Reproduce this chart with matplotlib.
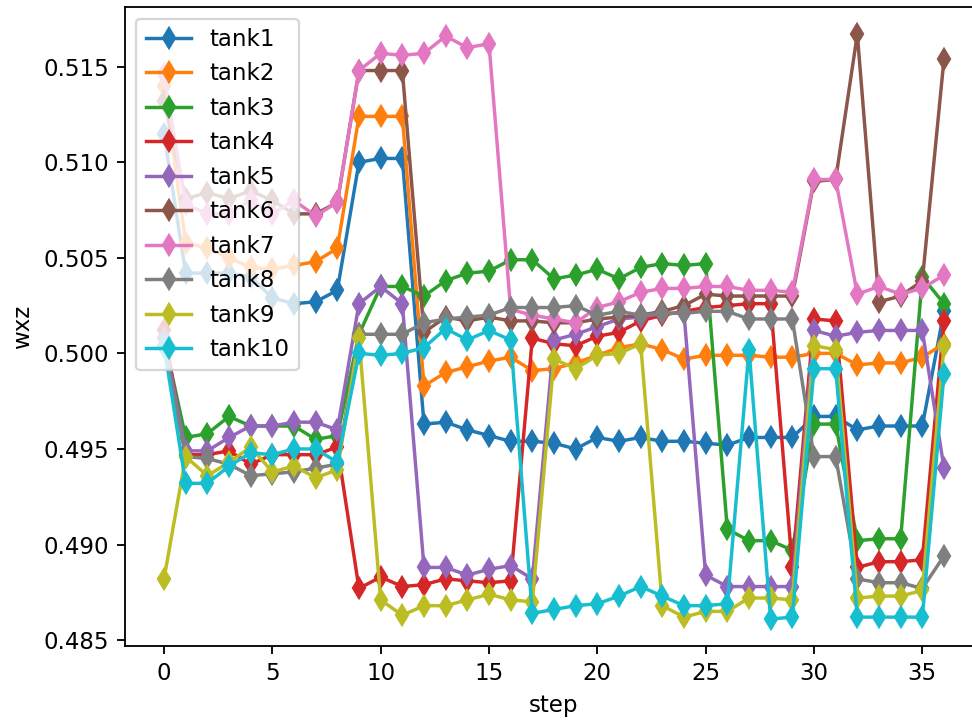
import numpy as np
import matplotlib
matplotlib.use('Agg')
import matplotlib.pyplot as plt

steps = np.arange(37)

tank1 = [0.5115, 0.5042, 0.5042, 0.5042, 0.5040, 0.5029, 0.5026, 0.5027, 0.5033,
         0.5100, 0.5102, 0.5102, 0.4963, 0.4964, 0.4960, 0.4957, 0.4954, 0.4954,
         0.4953, 0.4950, 0.4956, 0.4954, 0.4956, 0.4954, 0.4954, 0.4953, 0.4952,
         0.4956, 0.4956, 0.4956, 0.4967, 0.4967, 0.4960, 0.4962, 0.4962, 0.4962, 0.5022]
tank2 = [0.5140, 0.5058, 0.5055, 0.5050, 0.5045, 0.5044, 0.5046, 0.5048, 0.5055,
         0.5124, 0.5124, 0.5124, 0.4983, 0.4990, 0.4993, 0.4996, 0.4998, 0.4991,
         0.4992, 0.4995, 0.4999, 0.5003, 0.5005, 0.5002, 0.4997, 0.4999, 0.4999,
         0.4999, 0.4998, 0.4998, 0.5000, 0.5000, 0.4994, 0.4995, 0.4995, 0.4998, 0.5005]
tank3 = [0.5008, 0.4956, 0.4958, 0.4967, 0.4962, 0.4962, 0.4962, 0.4955, 0.4957,
         0.5010, 0.5035, 0.5035, 0.5030, 0.5038, 0.5042, 0.5043, 0.5049, 0.5049,
         0.5039, 0.5041, 0.5044, 0.5039, 0.5045, 0.5047, 0.5046, 0.5047, 0.4908,
         0.4902, 0.4902, 0.4897, 0.4963, 0.4963, 0.4902, 0.4903, 0.4903, 0.5040, 0.5026]
tank4 = [0.5012, 0.4947, 0.4947, 0.4949, 0.4942, 0.4947, 0.4947, 0.4947, 0.4951,
         0.4877, 0.4883, 0.4878, 0.4879, 0.4882, 0.4881, 0.4880, 0.4881, 0.5008,
         0.5005, 0.5004, 0.5009, 0.5011, 0.5017, 0.5020, 0.5022, 0.5024, 0.5025,
         0.5026, 0.5026, 0.4888, 0.5018, 0.5017, 0.4888, 0.4891, 0.4891, 0.4892, 0.5017]
tank5 = [0.5008, 0.4949, 0.4949, 0.4956, 0.4962, 0.4962, 0.4964, 0.4964, 0.4960,
         0.5026, 0.5035, 0.5026, 0.4888, 0.4888, 0.4884, 0.4887, 0.4889, 0.4882,
         0.5007, 0.5010, 0.5014, 0.5018, 0.5019, 0.5021, 0.5021, 0.4884, 0.4878,
         0.4878, 0.4878, 0.4878, 0.5012, 0.5009, 0.5011, 0.5012, 0.5012, 0.5012, 0.4940]
tank6 = [0.5132, 0.5081, 0.5084, 0.5081, 0.5085, 0.5080, 0.5073, 0.5073, 0.5079,
         0.5148, 0.5148, 0.5148, 0.5011, 0.5019, 0.5017, 0.5019, 0.5017, 0.5017,
         0.5016, 0.5016, 0.5018, 0.5019, 0.5020, 0.5022, 0.5025, 0.5031, 0.5030,
         0.5030, 0.5030, 0.5030, 0.5090, 0.5091, 0.5167, 0.5027, 0.5030, 0.5038, 0.5154]
tank7 = [0.5146, 0.5078, 0.5073, 0.5073, 0.5080, 0.5073, 0.5080, 0.5072, 0.5079,
         0.5148, 0.5157, 0.5156, 0.5157, 0.5166, 0.5160, 0.5162, 0.5023, 0.5020,
         0.5018, 0.5016, 0.5024, 0.5027, 0.5032, 0.5034, 0.5034, 0.5035, 0.5035,
         0.5033, 0.5033, 0.5032, 0.5091, 0.5091, 0.5031, 0.5035, 0.5031, 0.5034, 0.5041]
tank8 = [0.5004, 0.4946, 0.4945, 0.4942, 0.4936, 0.4937, 0.4938, 0.4940, 0.4942,
         0.5010, 0.5010, 0.5010, 0.5016, 0.5018, 0.5019, 0.5020, 0.5024, 0.5024,
         0.5024, 0.5025, 0.5020, 0.5022, 0.5020, 0.5021, 0.5021, 0.5022, 0.5022,
         0.5018, 0.5018, 0.5018, 0.4946, 0.4946, 0.4882, 0.4880, 0.4880, 0.4877, 0.4894]
tank9 = [0.4882, 0.4946, 0.4936, 0.4943, 0.4951, 0.4938, 0.4941, 0.4935, 0.4939,
         0.5008, 0.4871, 0.4863, 0.4868, 0.4868, 0.4871, 0.4874, 0.4871, 0.4870,
         0.4997, 0.4992, 0.4999, 0.5000, 0.5005, 0.4868, 0.4862, 0.4865, 0.4865,
         0.4872, 0.4872, 0.4871, 0.5004, 0.5002, 0.4872, 0.4873, 0.4873, 0.4876, 0.5004]
tank10 = [0.5004, 0.4932, 0.4932, 0.4941, 0.4948, 0.4947, 0.4950, 0.4950, 0.4943,
          0.5000, 0.4999, 0.5000, 0.5003, 0.5013, 0.5007, 0.5012, 0.5007, 0.4864,
          0.4866, 0.4868, 0.4869, 0.4873, 0.4878, 0.4873, 0.4868, 0.4868, 0.4869,
          0.5002, 0.4861, 0.4862, 0.4992, 0.4992, 0.4862, 0.4862, 0.4862, 0.4862, 0.4989]

series = [tank1, tank2, tank3, tank4, tank5, tank6, tank7, tank8, tank9, tank10]
labels = ['tank%d' % (i + 1) for i in range(len(series))]

dpi = 165
fig = plt.figure(figsize=(972 / dpi, 720 / dpi), dpi=dpi)
ax = fig.add_axes([0.1286, 0.1028, 0.8827, 0.8871])

for vals, lab in zip(series, labels):
    ax.plot(steps, vals, marker='d', label=lab)

ax.set_xlim(-1.8, 37.8)
ax.set_ylim(0.48469, 0.51811)
ax.spines['right'].set_visible(False)
ax.set_xlabel('step')
ax.set_ylabel('wxz')
ax.legend(loc='upper left')

fig.savefig('out.png', dpi=dpi)
